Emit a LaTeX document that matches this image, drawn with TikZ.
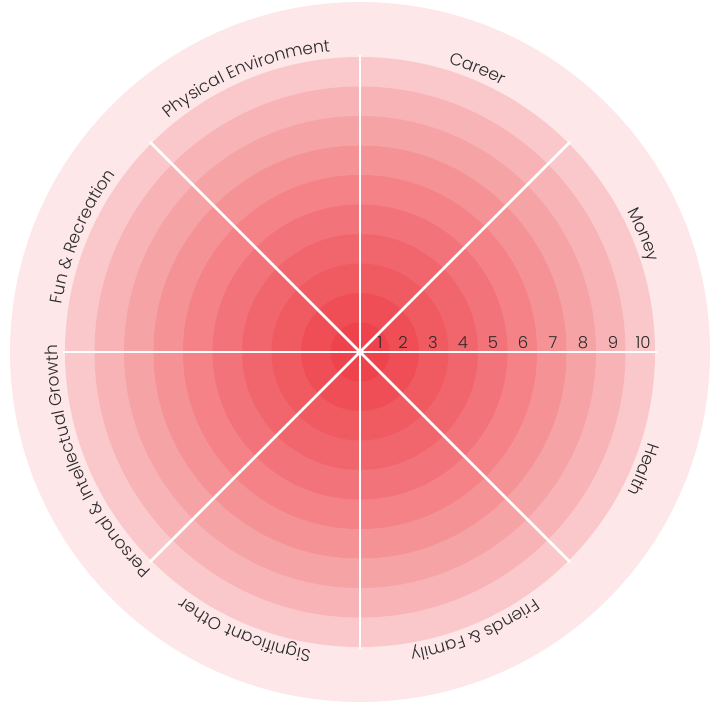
\documentclass[tikz,border=0pt]{standalone}
\usepackage{fontspec}
\setmainfont{Poppins}[UprightFont={* Light}]
\usetikzlibrary{decorations.text}
\definecolor{ringA}{HTML}{EE434C}
\definecolor{ringB}{HTML}{EF4E56}
\definecolor{ringC}{HTML}{F05A61}
\definecolor{ringD}{HTML}{F1666D}
\definecolor{ringE}{HTML}{F3737A}
\definecolor{ringF}{HTML}{F48287}
\definecolor{ringG}{HTML}{F59296}
\definecolor{ringH}{HTML}{F6A3A6}
\definecolor{ringI}{HTML}{F8B3B6}
\definecolor{ringJ}{HTML}{FAC8CA}
\definecolor{band}{HTML}{FDE7E9}
\definecolor{ink}{HTML}{2B2B2B}
\newcommand\lblfont{\fontsize{17}{17}\selectfont}
\tikzset{
  spoke/.style={draw=white, line width=2.8pt},
  numlabel/.style={text=ink, font=\fontsize{16.5}{16.5}\selectfont, anchor=base, inner sep=0pt},
  arclabel/.style={decorate, decoration={text along path, text align=center,
     text color=ink, text={|\lblfont|#1}}}
}
\begin{document}
\begin{tikzpicture}[x=1pt,y=1pt]
\useasboundingbox (-360,-353) rectangle (362,352);
\coordinate (c) at (0,0);
\fill[band] (c) circle[radius=350];
\foreach \r/\col in {295/ringJ,265.5/ringI,236/ringH,206.5/ringG,177/ringF,147.5/ringE,118/ringD,88.5/ringC,59/ringB,29.5/ringA}
  \fill[\col] (c) circle[radius=\r];
\foreach \a in {0,45,...,315}
  \draw[spoke] (c) -- (\a:297);
\foreach \k/\x in {1/20,2/43,3/73,4/103,5/133,6/163,7/193,8/223,9/253,10/283}
  \node[numlabel] (n\k) at (\x,3.5) {\k};
\def\rr{302}
\foreach \ang/\txt in {67.5/Career,22.5/Money,-22.5/Health,-67.5/Friends {\&} Family,
   -112.5/Significant Other,-157.5/Personal {\&} Intellectual Growth,
   157.5/Fun {\&} Recreation,112.5/Physical Environment}
{
  \path[arclabel/.expanded={\txt}] ({\ang+45}:\rr) arc[start angle={\ang+45}, end angle={\ang-45}, radius=\rr];
}
\end{tikzpicture}
\end{document}
